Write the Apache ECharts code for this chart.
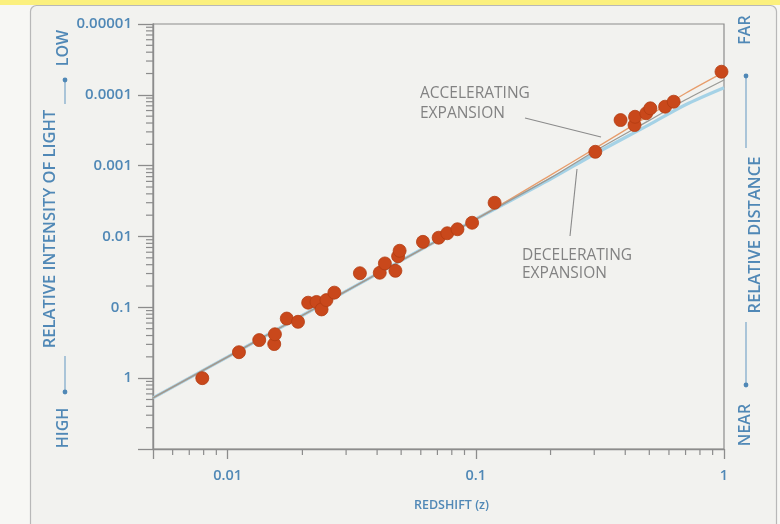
<!DOCTYPE html>
<html>
<head>
<meta charset="utf-8">
<script src="https://cdn.jsdelivr.net/npm/echarts@6/dist/echarts.min.js"></script>
<style>
  html, body { margin: 0; padding: 0; background: #f7f7f4; }
  #chart { width: 780px; height: 524px; }
</style>
</head>
<body>
<div id="chart"></div>
<script>
// Supernova observations: redshift and relative intensity of light
const supernovaZ = [
  0.0079, 0.0111, 0.0134, 0.0154, 0.0155, 0.0173, 0.0192, 0.0211, 0.0228, 0.0239,
  0.0250, 0.0269, 0.0341, 0.0410, 0.0430, 0.0474, 0.0486, 0.0493, 0.0612, 0.0708,
  0.0767, 0.0843, 0.0966, 0.119, 0.303, 0.383, 0.436, 0.438, 0.486, 0.505,
  0.579, 0.627, 0.977
];
const supernovaLight = [
  1.0, 0.43, 0.29, 0.33, 0.24, 0.144, 0.16, 0.086, 0.084, 0.107,
  0.079, 0.062, 0.033, 0.0325, 0.024, 0.0305, 0.019, 0.0159, 0.0119, 0.0104,
  0.0090, 0.0079, 0.0064, 0.00334, 0.000637, 0.000227, 0.000267, 0.000204, 0.000182, 0.000155,
  0.000147, 0.000125, 0.0000472
];

// Model curves
const curveZ = [0.005, 0.01, 0.03, 0.1, 0.2, 0.3, 0.5, 0.7, 1];
const acceleratingLight = [1.9, 0.5, 0.059, 0.0057, 0.00136, 0.00058, 0.000195, 0.0000948, 0.0000477];
const coastingLight     = [1.9, 0.5, 0.059, 0.0057, 0.00149, 0.00063, 0.000229, 0.0001175, 0.0000617];
const deceleratingLight = [1.9, 0.5, 0.059, 0.0057, 0.00155, 0.00069, 0.000263, 0.000138, 0.0000794];

// Tick labels
const xTickValues = [0.01, 0.1, 1];
const xTickLabels = ['0.01', '0.1', '1'];
const yTickValues = [0.00001, 0.0001, 0.001, 0.01, 0.1, 1];
const yTickLabels = ['0.00001', '0.0001', '0.001', '0.01', '0.1', '1'];

const X_MIN = 0.005, X_MAX = 1, Y_MIN = 0.00001, Y_MAX = 10;

// Minor ticks: 2..9 within each decade (the y axis runs toward faintness)
const xMinorTicks = [];
for (let d = -3; d <= -1; d++) {
  for (let k = 2; k <= 9; k++) {
    const v = k * Math.pow(10, d);
    if (v > X_MIN && v < X_MAX) xMinorTicks.push(v);
  }
}
const yMinorTicks = [];
for (let d = -5; d <= 0; d++) {
  for (let k = 2; k <= 9; k++) yMinorTicks.push(Math.pow(10, d + 1) / k);
}

function pickLabel(values, labels, v) {
  const lv = Math.log10(v);
  for (let i = 0; i < values.length; i++) {
    if (Math.abs(Math.log10(values[i]) - lv) < 1e-6) return labels[i];
  }
  return '';
}

const AXIS = '#8c8c8c';
const BLUE_TEXT = '#5088b6';
const NOTE = '#828282';
const FONT = '"Open Sans", "Noto Sans", sans-serif';

const chart = echarts.init(document.getElementById('chart'), null, { renderer: 'canvas' });

const sideText = (txt, x, y, size) => ({
  type: 'text', x: x, y: y, rotation: Math.PI / 2, silent: true,
  style: { text: txt, fill: BLUE_TEXT, font: '600 ' + size + 'px ' + FONT, textAlign: 'center', textVerticalAlign: 'middle' }
});
const vLine = (x, y1, y2) => ({
  type: 'line', silent: true, shape: { x1: x, y1: y1, x2: x, y2: y2 },
  style: { stroke: '#7aa6c8', lineWidth: 1.2 }
});
const dot = (x, y) => ({
  type: 'circle', silent: true, shape: { cx: x, cy: y, r: 2.4 }, style: { fill: BLUE_TEXT }
});
const note = (txt, x, y) => ({
  type: 'text', x: x, y: y, silent: true,
  style: { text: txt, fill: NOTE, font: '15.5px ' + FONT, textAlign: 'left', textVerticalAlign: 'middle' }
});
const leader = (x1, y1, x2, y2) => ({
  type: 'line', silent: true, shape: { x1: x1, y1: y1, x2: x2, y2: y2 },
  style: { stroke: '#8a8a8a', lineWidth: 1.1 }
});

const option = {
  animation: false,
  backgroundColor: 'transparent',
  textStyle: { fontFamily: FONT },
  graphic: [
    { type: 'rect', z: -20, silent: true, shape: { x: 0, y: 0, width: 780, height: 5 }, style: { fill: '#fbf07e' } },
    { type: 'rect', z: -19, silent: true, shape: { x: 30.5, y: 5.5, width: 746, height: 530, r: 6 },
      style: { fill: '#f2f2ef', stroke: '#b8b8b8', lineWidth: 1.2 } },

    sideText('RELATIVE INTENSITY OF LIGHT', 50, 229, 16.5),
    sideText('LOW', 63, 48, 16),
    sideText('HIGH', 63, 428, 16),
    vLine(65, 80, 104), vLine(65, 356, 392),
    dot(65, 80), dot(65, 392),

    sideText('RELATIVE DISTANCE', 755, 235, 16.5),
    sideText('FAR', 745, 30, 16),
    sideText('NEAR', 745, 425, 16),
    vLine(746, 76, 148), vLine(746, 322, 385),
    dot(746, 76), dot(746, 385),

    note('ACCELERATING', 420, 94),
    note('EXPANSION', 420, 114),
    leader(525, 118, 601, 137),
    note('DECELERATING', 522, 256),
    note('EXPANSION', 522, 274),
    leader(570, 236, 577, 169)
  ],
  grid: {
    left: 153, right: 56, top: 24, bottom: 75,
    show: true, backgroundColor: 'transparent', borderColor: AXIS, borderWidth: 1.2
  },
  xAxis: {
    type: 'log', logBase: 10, min: X_MIN, max: X_MAX,
    name: 'REDSHIFT (z)', nameLocation: 'middle', nameGap: 50,
    nameTextStyle: { color: BLUE_TEXT, fontSize: 12.5, fontWeight: 600, fontFamily: FONT, padding: [0, 0, 0, 26] },
    axisLine: { show: true, lineStyle: { color: AXIS, width: 1.4 } },
    axisTick: { show: true, inside: false, length: 10, lineStyle: { color: AXIS, width: 1.3 } },
    axisLabel: {
      color: BLUE_TEXT, fontSize: 14.5, fontWeight: 600, margin: 19, fontFamily: FONT,
      formatter: v => pickLabel(xTickValues, xTickLabels, v)
    },
    splitLine: { show: false }, minorTick: { show: false }
  },
  yAxis: {
    type: 'log', logBase: 10, min: Y_MIN, max: Y_MAX, inverse: true,
    axisLine: { show: true, lineStyle: { color: AXIS, width: 1.4 } },
    axisTick: { show: true, inside: false, length: 15, lineStyle: { color: AXIS, width: 1.3 } },
    axisLabel: {
      color: BLUE_TEXT, fontSize: 15, fontWeight: 600, margin: 21, fontFamily: FONT,
      formatter: v => pickLabel(yTickValues, yTickLabels, v)
    },
    splitLine: { show: false }, minorTick: { show: false }
  },
  series: [
    {
      name: 'x minor ticks', type: 'custom', silent: true, clip: false, z: 1,
      data: xMinorTicks.map(v => [v, Y_MAX]),
      encode: { x: 0, y: 1 },
      renderItem: (params, api) => {
        const p = api.coord([api.value(0), api.value(1)]);
        return { type: 'line', shape: { x1: p[0], y1: p[1], x2: p[0], y2: p[1] + 6 },
                 style: { stroke: AXIS, lineWidth: 1.2 } };
      }
    },
    {
      name: 'y minor ticks', type: 'custom', silent: true, clip: false, z: 1,
      data: yMinorTicks.map(v => [X_MIN, v]),
      encode: { x: 0, y: 1 },
      renderItem: (params, api) => {
        const p = api.coord([api.value(0), api.value(1)]);
        return { type: 'line', shape: { x1: p[0] - 7, y1: p[1], x2: p[0], y2: p[1] },
                 style: { stroke: AXIS, lineWidth: 1.2 } };
      }
    },
    {
      name: 'Decelerating expansion', type: 'line', smooth: 0.3, symbol: 'none', z: 2,
      data: curveZ.map((z, i) => [z, deceleratingLight[i]]),
      lineStyle: { color: '#a5d2e6', width: 3.2 }
    },
    {
      name: 'Accelerating expansion', type: 'line', smooth: 0.3, symbol: 'none', z: 3,
      data: curveZ.map((z, i) => [z, acceleratingLight[i]]),
      lineStyle: { color: '#e79d6c', width: 1.3 }
    },
    {
      name: 'Coasting', type: 'line', smooth: 0.3, symbol: 'none', z: 4,
      data: curveZ.map((z, i) => [z, coastingLight[i]]),
      lineStyle: { color: '#9a9a96', width: 1.3 }
    },
    {
      name: 'Supernovae', type: 'scatter', z: 5,
      symbol: 'circle', symbolSize: 13,
      data: supernovaZ.map((z, i) => [z, supernovaLight[i]]),
      itemStyle: { color: '#c9481b', borderColor: '#b23c12', borderWidth: 0.8, opacity: 1 }
    }
  ]
};

chart.setOption(option);
</script>
</body>
</html>
